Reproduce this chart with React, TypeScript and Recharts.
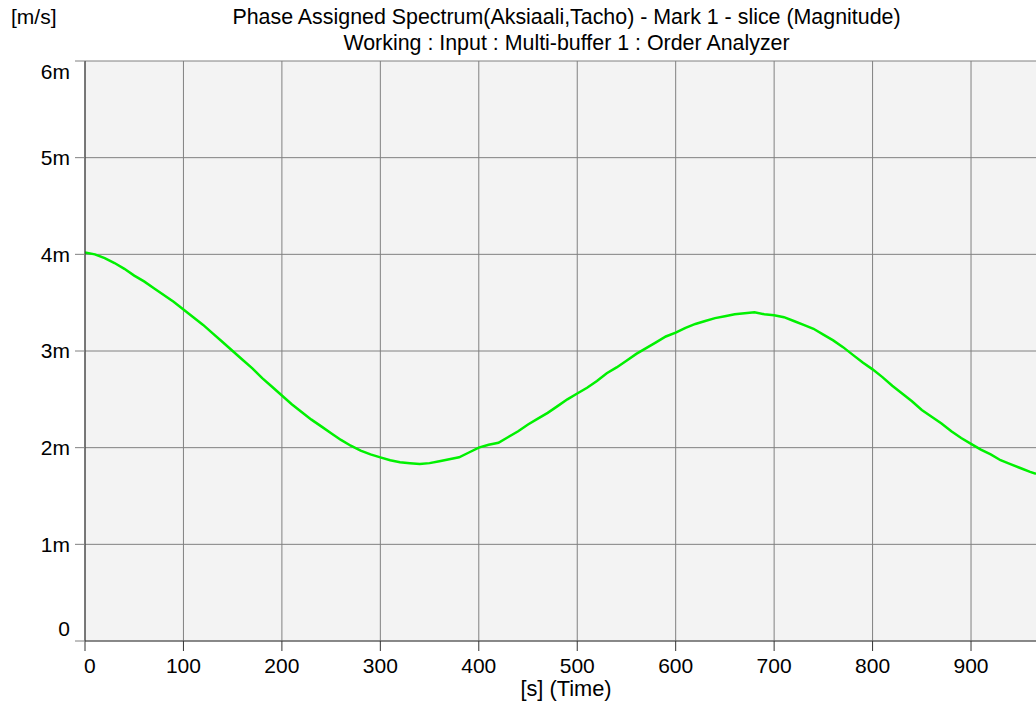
import { LineChart, Line, XAxis, YAxis, CartesianGrid } from 'recharts'

// time in seconds
const times = [
  0, 10, 20, 30, 40, 50, 60, 70, 80, 90,
  100, 110, 120, 130, 140, 150, 160, 170, 180, 190,
  200, 210, 220, 230, 240, 250, 260, 270, 280, 290,
  300, 310, 320, 330, 340, 350, 360, 370, 380, 390,
  400, 410, 420, 430, 440, 450, 460, 470, 480, 490,
  500, 510, 520, 530, 540, 550, 560, 570, 580, 590,
  600, 610, 620, 630, 640, 650, 660, 670, 680, 690,
  700, 710, 720, 730, 740, 750, 760, 770, 780, 790,
  800, 810, 820, 830, 840, 850, 860, 870, 880, 890,
  900, 910, 920, 930, 940, 950, 960, 966,
]

// magnitude in m (milli) m/s
const magnitude = [
  4.02, 4.0, 3.96, 3.91, 3.85, 3.78, 3.72, 3.65, 3.58, 3.51,
  3.43, 3.35, 3.27, 3.18, 3.09, 3.0, 2.91, 2.82, 2.72, 2.63,
  2.54, 2.45, 2.37, 2.29, 2.22, 2.15, 2.08, 2.02, 1.97, 1.93,
  1.9, 1.87, 1.85, 1.84, 1.83, 1.84, 1.86, 1.88, 1.9, 1.95,
  2.0, 2.03, 2.05, 2.11, 2.17, 2.24, 2.3, 2.36, 2.43, 2.5,
  2.56, 2.62, 2.69, 2.77, 2.83, 2.9, 2.97, 3.03, 3.09, 3.15,
  3.19, 3.24, 3.28, 3.31, 3.34, 3.36, 3.38, 3.39, 3.4, 3.38,
  3.37, 3.35, 3.31, 3.27, 3.23, 3.17, 3.11, 3.04, 2.96, 2.88,
  2.81, 2.73, 2.64, 2.56, 2.48, 2.39, 2.32, 2.25, 2.17, 2.1,
  2.04, 1.98, 1.93, 1.87, 1.83, 1.79, 1.75, 1.73,
]

const xTicks = [0, 100, 200, 300, 400, 500, 600, 700, 800, 900]
const yTicks = [0, 1, 2, 3, 4, 5, 6]

const data = times.map((t, i) => ({ t, v: magnitude[i] }))

const font = '"Liberation Sans", Arial, sans-serif'

function XTick(props: any) {
  const { x, y, payload } = props
  const first = payload.value === 0
  return (
    <text x={first ? x - 1 : x} y={y} dy="0.71em" textAnchor={first ? 'start' : 'middle'}
      fill="#000" fontSize={21} fontFamily={font}>
      {payload.value}
    </text>
  )
}

function YTick(props: any) {
  const { x, y, payload } = props
  const v = payload.value
  const shift = v === 6 ? 11 : v === 0 ? -12 : 0
  return (
    <text x={x} y={y + shift} dy="0.355em" textAnchor="end" fill="#000" fontSize={21} fontFamily={font}>
      {v === 0 ? '0' : `${v}m`}
    </text>
  )
}

export default function App() {
  return (
    <div style={{ position: 'absolute', left: 0, top: 0, width: 1036, height: 702, overflow: 'hidden', background: '#fff', fontFamily: font }}>
      <div style={{ position: 'absolute', left: 11, top: 5, fontSize: 21, lineHeight: '24px' }}>[m/s]</div>
      <div style={{ position: 'absolute', left: 0, width: 1133, top: 4, textAlign: 'center', fontSize: 21.4, lineHeight: '26px' }}>
        Phase Assigned Spectrum(Aksiaali,Tacho) - Mark 1 - slice (Magnitude)
        <br />
        Working : Input : Multi-buffer 1 : Order Analyzer
      </div>
      <LineChart width={1036} height={702} data={data} margin={{ top: 61, right: 0, bottom: 0, left: 0 }}>
        <CartesianGrid fill="#f3f3f3" stroke="#808080" strokeWidth={1}
          verticalValues={xTicks} horizontalValues={yTicks} />
        <XAxis dataKey="t" type="number" domain={[0, 966]} ticks={xTicks} allowDataOverflow
          height={61} tickSize={10} tickMargin={7} tick={<XTick />}
          axisLine={{ stroke: '#555' }} tickLine={{ stroke: '#333' }} />
        <YAxis type="number" domain={[0, 6]} ticks={yTicks} width={85}
          tickSize={10} tickMargin={5} tick={<YTick />}
          axisLine={{ stroke: '#333' }} tickLine={{ stroke: '#808080' }} />
        <Line type="linear" dataKey="v" stroke="#00f000" strokeWidth={2.5} dot={false} isAnimationActive={false} />
      </LineChart>
      <div style={{ position: 'absolute', left: 466, width: 200, top: 678, textAlign: 'center', fontSize: 21.8, lineHeight: '21px' }}>[s] (Time)</div>
    </div>
  )
}
